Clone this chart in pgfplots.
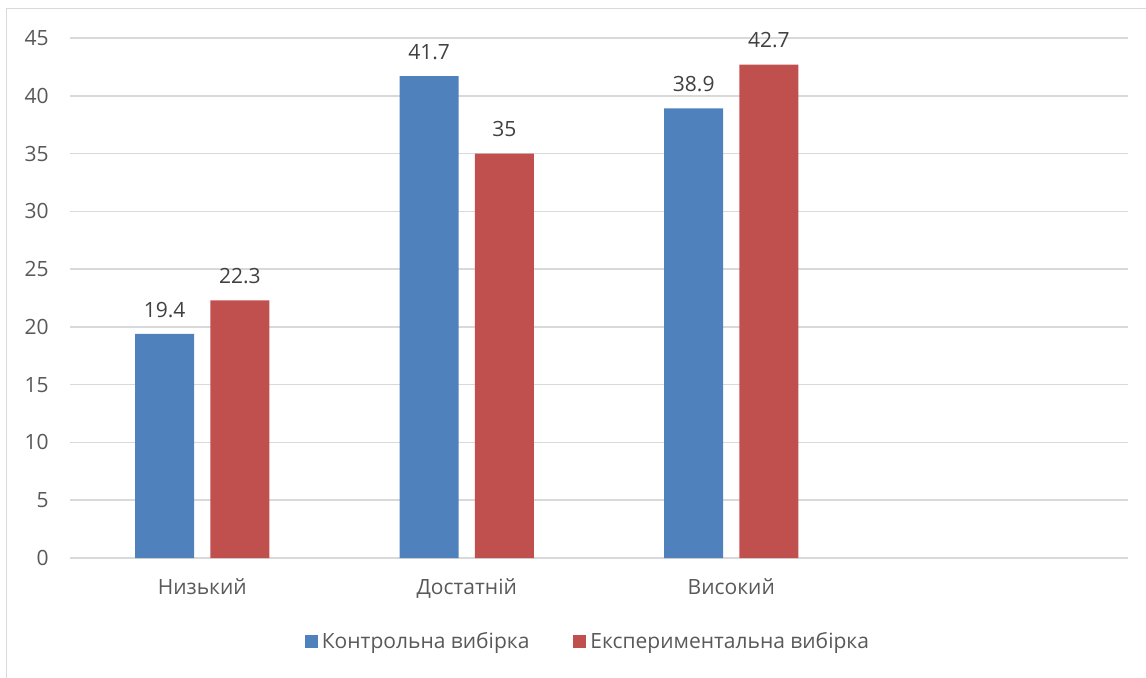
\documentclass[border=0pt]{standalone}
\usepackage{fontspec}
\setmainfont{Open Sans}
\usepackage{pgfplots}
\pgfplotsset{compat=1.18}
\definecolor{ctrl}{HTML}{4F81BD}
\definecolor{expr}{HTML}{C0504D}
\definecolor{gridc}{HTML}{D9D9D9}
\definecolor{tickc}{HTML}{595959}
\definecolor{valc}{HTML}{404040}
\begin{document}
\fontsize{10.5}{12}\selectfont
\begin{tikzpicture}
\path[use as bounding box] (0,0) rectangle (573pt,338.5pt);
\draw[gridc, line width=0.6pt] (3.25pt,-2pt) -- (3.25pt,334.25pt) -- (580pt,334.25pt);
\begin{axis}[
  at={(35pt,59.5pt)}, anchor=south west,
  scale only axis, width=529pt, height=260pt,
  xmin=-0.5, xmax=3.5, ymin=0, ymax=45,
  ytick={0,5,...,45},
  xtick={0,1,2}, xticklabels={Низький,Достатній,Високий},
  major tick length=0pt,
  axis line style={draw=none},
  axis x line*=bottom,
  ymajorgrids, grid style={gridc, line width=0.75pt},
  extra y ticks={0}, extra y tick style={grid style={gridc, line width=0.9pt}, yticklabels={}},
  yticklabel style={tickc, font=\fontsize{10.5}{12}\selectfont, anchor=east, xshift=-7pt},
  xticklabel style={tickc, font=\fontsize{10.5}{12}\selectfont, anchor=north, yshift=-6.5pt},
  /pgf/number format/assume math mode=true,
  ybar, bar width=0.223,
  nodes near coords,
  nodes near coords style={valc, font=\fontsize{10.5}{12}\selectfont, anchor=south, yshift=4.5pt},
  legend columns=2,
  legend style={at={(0.4905,-0.1615)}, anchor=center, draw=none, fill=none,
    font=\fontsize{10.5}{12}\selectfont, text=tickc,
    /tikz/every even column/.append style={column sep=20pt}},
  legend image code/.code={\fill[#1] (0pt,-3.25pt) rectangle (6.5pt,3.25pt);},
]
\addplot[fill=ctrl, draw=none, bar shift=-0.142] coordinates {(0,19.4) (1,41.7) (2,38.9)};
\addplot[fill=expr, draw=none, bar shift=0.142] coordinates {(0,22.3) (1,35) (2,42.7)};
\legend{Контрольна вибірка, Експериментальна вибірка}
\end{axis}
\end{tikzpicture}
\end{document}
